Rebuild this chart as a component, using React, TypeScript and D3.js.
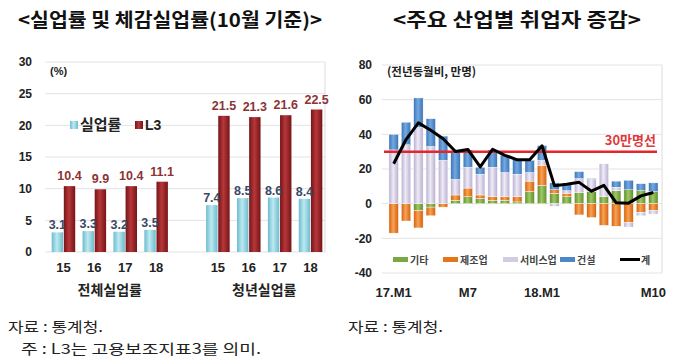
import React from 'react';
import { scaleBand, scaleLinear, stack, stackOffsetDiverging, line } from 'd3';

// left chart: unemployment rate vs L3 (October)
const years = ['15', '16', '17', '18'];
const groups = ['전체실업률', '청년실업률'];
const unempRate = [[3.1, 3.3, 3.2, 3.5], [7.4, 8.5, 8.6, 8.4]];
const l3Rate = [[10.4, 9.9, 10.4, 11.1], [21.5, 21.3, 21.6, 22.5]];
const leftTicks = [0, 5, 10, 15, 20, 25, 30];

// right chart: job growth by industry (yoy, 10k persons)
const months = [
  '17.M1', '17.M2', '17.M3', '17.M4', '17.M5', '17.M6', '17.M7', '17.M8', '17.M9', '17.M10', '17.M11', '17.M12',
  '18.M1', '18.M2', '18.M3', '18.M4', '18.M5', '18.M6', '18.M7', '18.M8', '18.M9', '18.M10',
];
const tickMonths = ['17.M1', '17.M7', '18.M1', '18.M10'];
const tickLabels = ['17.M1', 'M7', '18.M1', 'M10'];
const etc = [0, 0, -4, -2, 0, 2, 4, 3, 2, 2, 1, 7, 10.5, 6, 4, 6.5, 7, 4, 7.5, 8, 7.5, 7];
const mfg = [-17, -10, -10, -5, -2, 3, 5, 2, 2, 2, 3, 6, 11.5, 2, 2, -6.5, -8, -12.5, -13, -11, -5, -4];
const svc = [31, 34, 44, 33, 25, 9, 12, 12, 17, 14, 13, 5, 3, -1.5, 1.5, 8, 7, 19, 2, -2.5, -2, -2];
const con = [9, 13, 17, 16, 14, 16, 10, 4, 10, 10, 8.5, 7, 8.5, 4, 3.5, 4, 0.5, 0, 3.5, 5.5, 4, 5];
const total = [23, 37, 46.6, 42.4, 37.5, 30.1, 31.3, 21.2, 31.4, 27.9, 25.3, 25.3, 33.4, 10.4, 11.2, 12.3, 7.2, 10.6, 0.5, 0.3, 4.5, 6.4];
const rightTicks = [-40, -20, 0, 20, 40, 60, 80];
const seriesKeys = ['기타', '제조업', '서비스업', '건설'];
const refLine = 30;

const FONT = "'Liberation Sans', 'Noto Sans CJK KR', sans-serif";
const KFONT = "'Noto Sans CJK KR', sans-serif";

const grads: Record<string, [string, string]> = {
  cyan: ['#6cbccd', '#bde9f0'],
  red: ['#761417', '#b6373a'],
  기타: ['#5f8c2c', '#9fc866'],
  제조업: ['#d55f0c', '#f6a355'],
  서비스업: ['#b8aed0', '#efebf6'],
  건설: ['#3a73b6', '#74a8e0'],
};
const solid: Record<string, string> = {
  기타: '#79a844', 제조업: '#e57519', 서비스업: '#d3cae4', 건설: '#4d87c9',
};
const legendX = [393, 443, 503, 560];

const App = () => {
  // ---------- left ----------
  const yL = scaleLinear().domain([0, 30]).range([252, 62]);
  const xG = scaleBand().domain(groups).range([48, 326]).paddingInner(0.2);
  const xY = scaleBand().domain(years).range([0, xG.bandwidth()]);
  const xS = scaleBand().domain(['u', 'l']).range([-12.5, 12.5]).padding(0.06);
  const lx0 = 45, lx1 = 325;

  // ---------- right ----------
  const yR = scaleLinear().domain([-40, 80]).range([273, 65]);
  const xM = scaleBand().domain(months).range([386, 661]).padding(0.24);
  const rx0 = 382, rx1 = 662;
  const table = months.map((m, i) => ({ m, 기타: etc[i], 제조업: mfg[i], 서비스업: svc[i], 건설: con[i] }));
  const stacked = stack<any>().keys(seriesKeys).offset(stackOffsetDiverging)(table);
  const cx = (m: string) => (xM(m) as number) + xM.bandwidth() / 2;
  const totalLine = line<number>().x((_, i) => cx(months[i])).y(d => yR(d));

  return (
    <svg width={680} height={363} style={{ position: 'absolute', left: 0, top: 0, background: '#fff' }}>
      <defs>
        {Object.keys(grads).map(k => (
          <linearGradient key={k} id={'g-' + k} x1="0" x2="1" y1="0" y2="0">
            <stop offset="0%" stopColor={grads[k][0]} />
            <stop offset="45%" stopColor={grads[k][1]} />
            <stop offset="100%" stopColor={grads[k][0]} />
          </linearGradient>
        ))}
      </defs>

      {/* titles */}
      <text x={170} y={27} textAnchor="middle" fontFamily={KFONT} fontWeight="bold" fontSize={19} fill="#111"
        textLength={304} lengthAdjust="spacingAndGlyphs">&lt;실업률 및 체감실업률(10월 기준)&gt;</text>
      <text x={517} y={27} textAnchor="middle" fontFamily={KFONT} fontWeight="bold" fontSize={19} fill="#111"
        textLength={248} lengthAdjust="spacingAndGlyphs">&lt;주요 산업별 취업자 증감&gt;</text>

      {/* ===== left chart ===== */}
      {leftTicks.map(t => (
        <g key={t}>
          <line x1={lx0} x2={lx1} y1={yL(t)} y2={yL(t)} stroke="#e3e3e3" />
          <text x={32} y={yL(t)} dy="0.35em" textAnchor="end" fontFamily={FONT} fontWeight="bold" fontSize={12} fill="#222">{t}</text>
        </g>
      ))}
      <line x1={lx1} x2={lx1} y1={yL(30)} y2={yL(0)} stroke="#dcdcdc" />
      <text x={50} y={75} fontFamily={FONT} fontWeight="bold" fontSize={11} fill="#222">(%)</text>

      {groups.map((g, gi) => (
        <g key={g}>
          {years.map((yr, yi) => {
            const c = (xG(g) as number) + (xY(yr) as number) + xY.bandwidth() / 2;
            const ux = c + (xS('u') as number), lxp = c + (xS('l') as number);
            const bw = xS.bandwidth();
            const u = unempRate[gi][yi], l = l3Rate[gi][yi];
            return (
              <g key={yr}>
                <rect x={ux} y={yL(u)} width={bw} height={yL(0) - yL(u)} fill="url(#g-cyan)" />
                <rect x={lxp} y={yL(l)} width={bw} height={yL(0) - yL(l)} fill="url(#g-red)" />
                <text x={ux + bw / 2} y={yL(u) - 3} textAnchor="middle" fontFamily={FONT} fontWeight="bold" fontSize={12.5} fill="#3a4868">{u.toFixed(1)}</text>
                <text x={lxp + bw / 2} y={yL(l) - 6} textAnchor="middle" fontFamily={FONT} fontWeight="bold" fontSize={12.5} fill="#8c3434">{l.toFixed(1)}</text>
                <text x={c} y={267} dy="0.35em" textAnchor="middle" fontFamily={FONT} fontWeight="bold" fontSize={13} fill="#222">{yr}</text>
              </g>
            );
          })}
          <text x={(xG(g) as number) + xG.bandwidth() / 2} y={290} dy="0.35em" textAnchor="middle" fontFamily={KFONT} fontWeight="bold" fontSize={14} fill="#222">{g}</text>
        </g>
      ))}

      {/* left legend */}
      <rect x={70} y={121} width={8} height={8} fill="url(#g-cyan)" />
      <text x={80} y={125} dy="0.35em" fontFamily={KFONT} fontWeight="bold" fontSize={15} fill="#222">실업률</text>
      <rect x={135} y={121} width={8} height={8} fill="url(#g-red)" />
      <text x={145} y={125} dy="0.35em" fontFamily={FONT} fontWeight="bold" fontSize={14} fill="#222">L3</text>

      {/* ===== right chart ===== */}
      {rightTicks.map(t => (
        <g key={t}>
          <line x1={rx0} x2={rx1} y1={yR(t)} y2={yR(t)} stroke="#e3e3e3" />
          <text x={372} y={yR(t)} dy="0.35em" textAnchor="end" fontFamily={FONT} fontWeight="bold" fontSize={12} fill="#222">{t}</text>
        </g>
      ))}
      <line x1={rx1} x2={rx1} y1={yR(80)} y2={yR(-40)} stroke="#dcdcdc" />
      <text x={387} y={76} fontFamily={KFONT} fontWeight="bold" fontSize={11.5} fill="#222">(전년동월비, 만명)</text>

      {stacked.map(s => (
        <g key={s.key}>
          {s.map((d, i) => {
            const y0 = Math.min(yR(d[0]), yR(d[1]));
            const h = Math.abs(yR(d[0]) - yR(d[1]));
            if (h < 0.1) return null;
            return (
              <rect key={i} x={xM(months[i])} y={y0} width={xM.bandwidth()} height={h}
                fill={`url(#g-${s.key})`} stroke="#fff" strokeWidth={0.4} />
            );
          })}
        </g>
      ))}

      <line x1={384} x2={657} y1={yR(refLine)} y2={yR(refLine)} stroke="#e3262b" strokeWidth={2.5} />
      <text x={656} y={yR(refLine) - 7} textAnchor="end" fontFamily={KFONT} fontWeight="bold" fontSize={13} fill="#e0393c">30만명선</text>

      <path d={totalLine(total) as string} fill="none" stroke="#000" strokeWidth={3} strokeLinejoin="round" />

      {tickMonths.map((m, i) => (
        <text key={m} x={cx(m)} y={292} dy="0.35em" textAnchor="middle" fontFamily={FONT} fontWeight="bold" fontSize={13} fill="#222">{tickLabels[i]}</text>
      ))}

      {/* right legend */}
      {seriesKeys.map((k, i) => (
        <g key={k}>
          <rect x={legendX[i]} y={257} width={15} height={5} fill={solid[k]} />
          <text x={legendX[i] + 17} y={260} dy="0.35em" fontFamily={KFONT} fontWeight="bold" fontSize={10} fill="#444">{k}</text>
        </g>
      ))}
      <line x1={620} x2={640} y1={259.5} y2={259.5} stroke="#000" strokeWidth={3} />
      <text x={641} y={260} dy="0.35em" fontFamily={KFONT} fontWeight="bold" fontSize={10} fill="#444">계</text>

      {/* notes */}
      <text x={8} y={327} dy="0.35em" fontFamily={KFONT} fontSize={14} fill="#222"
        textLength={95} lengthAdjust="spacingAndGlyphs">자료 : 통계청.</text>
      <text x={21} y={349} dy="0.35em" fontFamily={KFONT} fontSize={14} fill="#222"
        textLength={240} lengthAdjust="spacingAndGlyphs">주 : L3는 고용보조지표3를 의미.</text>
      <text x={348} y={327} dy="0.35em" fontFamily={KFONT} fontSize={14} fill="#222"
        textLength={95} lengthAdjust="spacingAndGlyphs">자료 : 통계청.</text>
    </svg>
  );
};

export default App;
